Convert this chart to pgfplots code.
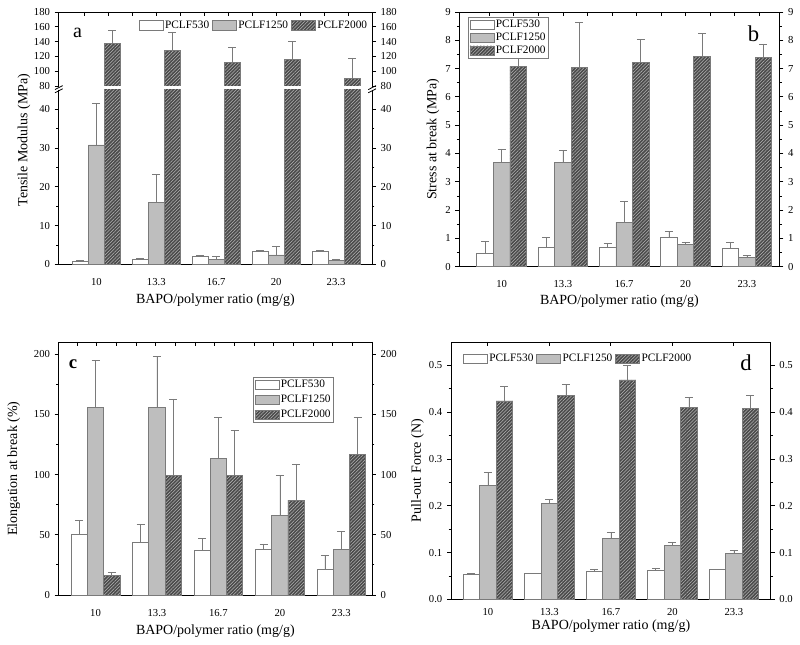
\documentclass[border=0pt]{standalone}
\usepackage{fontspec}
\setmainfont{Liberation Serif}
\usepackage{pgfplots}
\usepackage{pgfplotstable}
\pgfplotsset{compat=1.18}
\usetikzlibrary{patterns.meta}
\definecolor{edge}{HTML}{7A7A7A}
\definecolor{midgray}{HTML}{BEBEBE}
\definecolor{darkfill}{HTML}{4B4B4B}
\definecolor{hatch}{HTML}{B4B4B4}

\pgfplotstableread{
x  v1   e1   v2    e2    v3    e3
1  0.85 0.10 30.8  10.7  137.9 17.2
2  1.30 0.15 15.9  7.4   128.0 25.0
3  2.10 0.10 1.3   0.7   112.0 20.0
4  3.30 0.30 2.4   2.3   115.7 25.0
5  3.40 0.20 1.1   0.2   90.4  27.6
}\tabA
\pgfplotstableread{
x v1 e1 v2 e2 v3 e3
1 0.47 0.43 3.69 0.47 7.08 0.30
2 0.69 0.35 3.69 0.43 7.03 1.60
3 0.69 0.14 1.57 0.74 7.23 0.80
4 1.04 0.21 0.79 0.07 7.44 0.80
5 0.65 0.21 0.34 0.05 7.40 0.47
}\tabB
\pgfplotstableread{
x v1 e1 v2 e2 v3 e3
1 50.3 11.7 155.6 39.0 16.3 2.5
2 44.0 15.0 155.6 42.6 99.0 63.8
3 37.0 9.7 113.6 33.7 99.5 37.0
4 37.9 4.6 65.8 34.0 78.8 30.0
5 21.3 11.6 37.9 15.2 116.7 30.6
}\tabC
\pgfplotstableread{
x v1 e1 v2 e2 v3 e3
1 0.054 0.001 0.243 0.028 0.424 0.031
2 0.055 0.001 0.205 0.009 0.435 0.025
3 0.060 0.004 0.131 0.012 0.469 0.031
4 0.063 0.004 0.116 0.007 0.410 0.022
5 0.064 0.000 0.098 0.007 0.408 0.028
}\tabD

\pgfplotsset{
  base/.style={scale only axis, clip=true,
    axis line style={black, line width=0.6pt},
    every tick/.style={black, line width=0.6pt},
    major tick length=3pt, minor tick length=1.8pt,
    /pgf/number format/assume math mode=true,
    tick label style={font=\fontsize{8}{9}\selectfont},
    label style={font=\fontsize{10.5}{12}\selectfont},
  },
  s530/.style={fill=white, draw=edge, line width=0.5pt,
    legend image code/.code={\draw[##1] (0pt,-3.5pt) rectangle (18pt,3.5pt);}},
  s1250/.style={fill=midgray, draw=edge, line width=0.5pt,
    legend image code/.code={\draw[##1] (0pt,-3.5pt) rectangle (18pt,3.5pt);}},
  s2000/.style={fill=darkfill, draw=edge, line width=0.5pt,
    postaction={pattern={Lines[angle=45,distance=1.8pt,line width=0.4pt]}, pattern color=hatch},
    legend image code/.code={\draw[##1] (0pt,-3.5pt) rectangle (18pt,3.5pt);}},
  eb/.style={/pgfplots/error bars/y dir=plus, /pgfplots/error bars/y explicit,
    /pgfplots/error bars/error bar style={edge, line width=0.5pt, mark size=3pt}},
  mainax/.style={base, axis x line*=bottom, axis y line*=left, tick align=outside,
    xtick={1,2,3,4,5}, xticklabels={10,13.3,16.7,20,23.3}, xtick style={draw=none},
    xticklabel style={yshift=-4pt}},
  rightax/.style={base, axis y line*=right, axis x line=none, tick align=outside},
  topax/.style={base, axis x line*=top, axis y line=none, tick align=inside, xticklabels={}},
  legv/.style={legend cell align=left, legend style={font=\fontsize{8.5}{10}\selectfont, draw=edge, line width=0.5pt, fill=white, inner sep=1pt, row sep=0pt, nodes={inner sep=1.2pt}, /tikz/every even column/.append style={column sep=0pt}}},
  legh/.style={legend columns=-1, legend cell align=left, legend style={font=\fontsize{8.5}{10}\selectfont, draw=none, fill=none, inner sep=0pt, nodes={inner sep=1.2pt}, /tikz/every even column/.append style={column sep=1pt}}},
}

\begin{document}
\begin{tikzpicture}
\useasboundingbox (0,0) rectangle (600pt,-483.75pt);

%%%%%%%%%%%%%%%% panel a upper
\begin{axis}[base, at={(44pt,-9pt)}, anchor=north west, width=235pt, height=55.5pt,
  xmin=0.37, xmax=5.6, ymin=80, ymax=180, bar width=0.267,
  axis x line=none, axis y line*=left, tick align=outside, ytick={80,100,...,180},
  legh, legend style={at={(0.255,0.82)}, anchor=west}]
\addlegendimage{s530}\addlegendentry{PCLF530}
\addlegendimage{s1250}\addlegendentry{PCLF1250}
\addlegendimage{s2000}\addlegendentry{PCLF2000}
\addplot[ybar, s2000, bar shift=0, eb, forget plot] table[x expr=\thisrow{x}+0.267,y=v3,y error=e3]{\tabA};
\node[font=\fontsize{15}{15}\selectfont] at (rel axis cs:0.06,0.716) {a};
\end{axis}
\begin{axis}[rightax, at={(44pt,-9pt)}, anchor=north west, width=235pt, height=55.5pt,
  xmin=0.37, xmax=5.6, ymin=80, ymax=180, ytick={80,100,...,180}]
\end{axis}
\begin{axis}[topax, at={(44pt,-9pt)}, anchor=north west, width=235pt, height=55.5pt,
  xmin=0.37, xmax=5.6, ymin=80, ymax=180, xtick={0.8,1.2,...,5.2}]
\end{axis}
%%%%%%%%%%%%%%%% panel a lower
\begin{axis}[mainax, at={(44pt,-198.2pt)}, anchor=south west, width=235pt, height=130.7pt,
  xmin=0.37, xmax=5.6, ymin=0, ymax=45, bar width=0.267,
  ytick={0,10,...,40}, minor ytick={5,15,...,35},
  xlabel={BAPO/polymer ratio (mg/g)},
  xlabel style={at={(axis description cs:0.5,-0.205)}, anchor=center}]
\addplot[ybar, s530, bar shift=0, eb] table[x expr=\thisrow{x}-0.267,y=v1,y error=e1]{\tabA};
\addplot[ybar, s1250, bar shift=0, eb] table[x=x,y=v2,y error=e2]{\tabA};
\addplot[ybar, s2000, bar shift=0] table[x expr=\thisrow{x}+0.267,y=v3]{\tabA};
\end{axis}
\begin{axis}[rightax, at={(44pt,-198.2pt)}, anchor=south west, width=235pt, height=130.7pt,
  xmin=0.37, xmax=5.6, ymin=0, ymax=45, ytick={0,10,...,40}, minor ytick={5,15,...,35}]
\end{axis}
\node[rotate=90, font=\fontsize{10.5}{12}\selectfont] at (18pt,-105pt) {Tensile Modulus (MPa)};
\draw[black, line width=0.6pt] (41.2pt,-67.2pt) -- (47pt,-64.2pt) (41.2pt,-69.6pt) -- (47pt,-66.6pt);
\draw[black, line width=0.6pt] (276.2pt,-67.2pt) -- (282pt,-64.2pt) (276.2pt,-69.6pt) -- (282pt,-66.6pt);

%%%%%%%%%%%%%%%% panel b
\begin{axis}[mainax, at={(344.5pt,-200pt)}, anchor=south west, width=240pt, height=191pt,
  xmin=0.31, xmax=5.53, ymin=0, ymax=9, bar width=0.27,
  ytick={0,...,9}, minor ytick={0.5,1.5,...,8.5},
  xlabel={BAPO/polymer ratio (mg/g)}, ylabel={Stress at break (MPa)},
  xlabel style={at={(axis description cs:0.5,-0.135)}, anchor=center},
  ylabel style={at={(axis description cs:-0.082,0.5)}, anchor=center},
  legv, legend style={at={(0.027,0.98)}, anchor=north west}]
\addplot[ybar, s530, bar shift=0, eb] table[x expr=\thisrow{x}-0.27,y=v1,y error=e1]{\tabB};
\addlegendentry{PCLF530}
\addplot[ybar, s1250, bar shift=0, eb] table[x=x,y=v2,y error=e2]{\tabB};
\addlegendentry{PCLF1250}
\addplot[ybar, s2000, bar shift=0, eb] table[x expr=\thisrow{x}+0.27,y=v3,y error=e3]{\tabB};
\addlegendentry{PCLF2000}
\node[font=\fontsize{17}{17}\selectfont] at (rel axis cs:0.919,0.914) {b};
\end{axis}
\begin{axis}[rightax, at={(344.5pt,-200pt)}, anchor=south west, width=240pt, height=191pt,
  xmin=0.31, xmax=5.53, ymin=0, ymax=9, ytick={0,...,9}, minor ytick={0.5,1.5,...,8.5}]
\end{axis}
\begin{axis}[topax, at={(344.5pt,-200pt)}, anchor=south west, width=240pt, height=191pt,
  xmin=0.31, xmax=5.53, ymin=0, ymax=9, xtick={0.8,1.2,...,5.2}]
\end{axis}

%%%%%%%%%%%%%%%% panel c
\begin{axis}[mainax, at={(44pt,-446.25pt)}, anchor=south west, width=235pt, height=189.75pt,
  xmin=0.4, xmax=5.5, ymin=0, ymax=210, bar width=0.265,
  ytick={0,50,...,200}, minor ytick={25,75,...,175},
  xlabel={BAPO/polymer ratio (mg/g)}, ylabel={Elongation at break (\%)},
  xlabel style={at={(axis description cs:0.5,-0.141)}, anchor=center},
  ylabel style={at={(axis description cs:-0.143,0.5)}, anchor=center},
  legv, legend style={at={(0.62,0.863)}, anchor=north west, row sep=1.8pt}]
\addplot[ybar, s530, bar shift=0, eb] table[x expr=\thisrow{x}-0.265,y=v1,y error=e1]{\tabC};
\addlegendentry{PCLF530}
\addplot[ybar, s1250, bar shift=0, eb] table[x=x,y=v2,y error=e2]{\tabC};
\addlegendentry{PCLF1250}
\addplot[ybar, s2000, bar shift=0, eb] table[x expr=\thisrow{x}+0.265,y=v3,y error=e3]{\tabC};
\addlegendentry{PCLF2000}
\node[font=\fontsize{14}{14}\selectfont\bfseries] at (rel axis cs:0.046,0.913) {c};
\end{axis}
\begin{axis}[rightax, at={(44pt,-446.25pt)}, anchor=south west, width=235pt, height=189.75pt,
  xmin=0.4, xmax=5.5, ymin=0, ymax=210, ytick={0,50,...,200}, minor ytick={25,75,...,175}]
\end{axis}
\begin{axis}[topax, at={(44pt,-446.25pt)}, anchor=south west, width=235pt, height=189.75pt,
  xmin=0.4, xmax=5.5, ymin=0, ymax=210, xtick={0.7,1.02,...,5.5}]
\end{axis}

%%%%%%%%%%%%%%%% panel d
\begin{axis}[mainax, at={(338.25pt,-449.5pt)}, anchor=south west, width=239.8pt, height=193pt,
  xmin=0.4, xmax=5.6, ymin=0, ymax=0.55, bar width=0.27,
  xticklabel style={yshift=4pt},
  ytick={0,0.1,...,0.5}, minor ytick={0.05,0.15,...,0.45},
  yticklabel style={/pgf/number format/.cd, fixed, fixed zerofill, precision=1},
  xlabel={BAPO/polymer ratio (mg/g)}, ylabel={Pull-out Force (N)},
  xlabel style={at={(axis description cs:0.5,-0.103)}, anchor=center},
  ylabel style={at={(axis description cs:-0.105,0.5)}, anchor=center},
  legh, legend style={at={(0.037,0.934)}, anchor=west}]
\addplot[ybar, s530, bar shift=0, eb] table[x expr=\thisrow{x}-0.27,y=v1,y error=e1]{\tabD};
\addlegendentry{PCLF530}
\addplot[ybar, s1250, bar shift=0, eb] table[x=x,y=v2,y error=e2]{\tabD};
\addlegendentry{PCLF1250}
\addplot[ybar, s2000, bar shift=0, eb] table[x expr=\thisrow{x}+0.27,y=v3,y error=e3]{\tabD};
\addlegendentry{PCLF2000}
\node[font=\fontsize{17}{17}\selectfont] at (rel axis cs:0.923,0.918) {d};
\end{axis}
\begin{axis}[rightax, at={(338.25pt,-449.5pt)}, anchor=south west, width=239.8pt, height=193pt,
  xmin=0.4, xmax=5.6, ymin=0, ymax=0.55, ytick={0,0.1,...,0.5}, minor ytick={0.05,0.15,...,0.45},
  yticklabel style={/pgf/number format/.cd, fixed, fixed zerofill, precision=1}]
\end{axis}
\begin{axis}[topax, at={(338.25pt,-449.5pt)}, anchor=south west, width=239.8pt, height=193pt,
  xmin=0.4, xmax=5.6, ymin=0, ymax=0.55, xtick={1,2,3,4,5}]
\end{axis}
\end{tikzpicture}
\end{document}
